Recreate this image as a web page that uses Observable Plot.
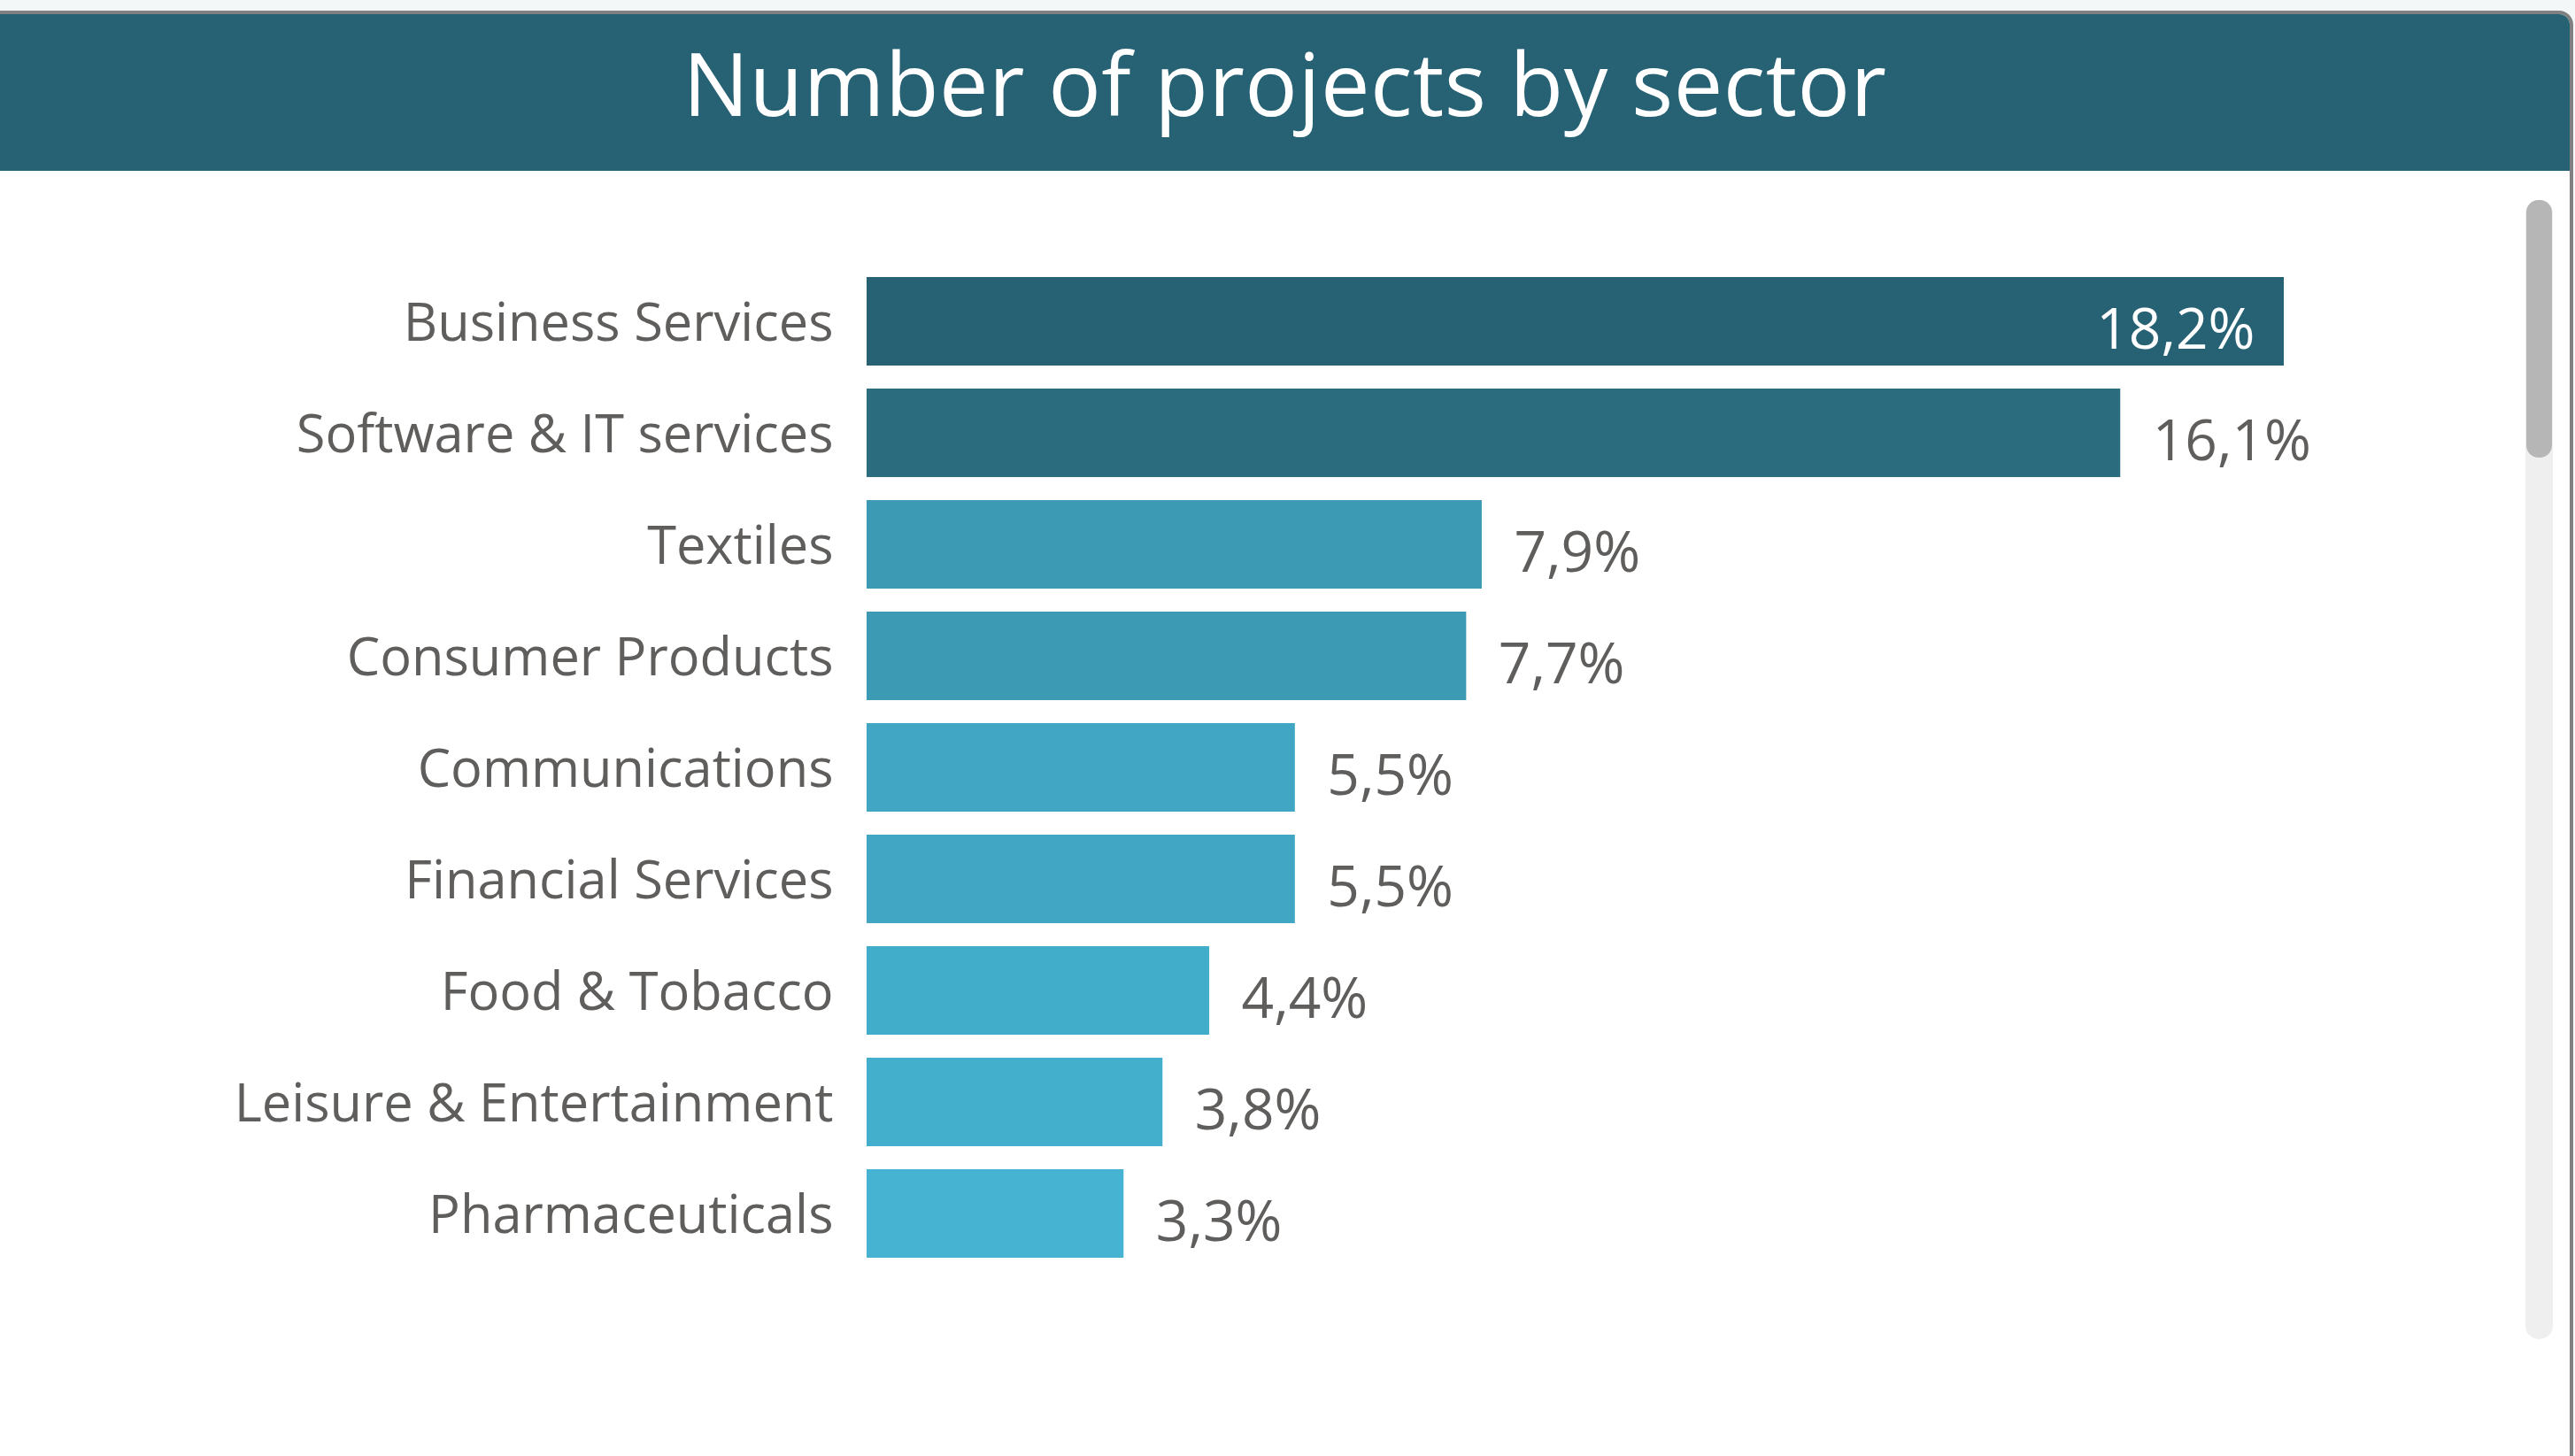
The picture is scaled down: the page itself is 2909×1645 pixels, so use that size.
<!DOCTYPE html>
<html>
<head>
<meta charset="utf-8">
<script src="https://cdn.jsdelivr.net/npm/d3@7"></script>
<script src="https://cdn.jsdelivr.net/npm/@observablehq/plot@0.6"></script>
<style>
  html, body { margin: 0; padding: 0; background: #f3f7f8; }
  body { width: 2909px; height: 1645px; overflow: hidden; position: relative; font-family: "Open Sans", "Noto Sans", sans-serif; }
  #card { position: absolute; left: -14px; top: 12px; width: 2921px; height: 1660px; background: #ffffff;
          border-top: 4px solid #808080; border-right: 4px solid #808080; border-radius: 16px 16px 0 0; box-sizing: border-box; overflow: hidden; }
  #title { position: absolute; left: 0; top: 0; width: 100%; height: 177px; background: #276274; color: #ffffff;
           font-size: 99px; line-height: 177px; text-align: center; padding-left: 14px; box-sizing: border-box; font-weight: 400; letter-spacing: 0.5px; }
  #title span { position: relative; top: -12px; }
  #chart { position: absolute; left: 0; top: 193px; }
  #track { position: absolute; left: 2853px; top: 226px; width: 31px; height: 1287px; background: #efefef; border-radius: 15px; }
  #thumb { position: absolute; left: 2854px; top: 226px; width: 29px; height: 291px; background: #b6b6b6; border-radius: 14px; }
</style>
</head>
<body>
<div id="card"><div id="title"><span>Number of projects by sector</span></div></div>
<div id="chart"></div>
<div id="track"></div>
<div id="thumb"></div>
<script>
const categories = [
  "Business Services",
  "Software & IT services",
  "Textiles",
  "Consumer Products",
  "Communications",
  "Financial Services",
  "Food & Tobacco",
  "Leisure & Entertainment",
  "Pharmaceuticals"
];
const values = [18.2, 16.1, 7.9, 7.7, 5.5, 5.5, 4.4, 3.8, 3.3];
const palette = ["#276274", "#2b6c7f", "#3d9ab4", "#3d9ab4", "#40a6c3", "#40a6c3", "#42adca", "#43afcd", "#46b3d2"];

const data = categories.map((sector, i) => ({sector, value: values[i]}));
const maxValue = d3.max(values);
const fmt = v => d3.format(".1f")(v).replace(".", ",") + "%";

const chart = Plot.plot({
  width: 2840,
  height: 1452,
  marginLeft: 979,
  marginRight: 260,
  marginTop: 104,
  marginBottom: 208,
  x: {domain: [0, maxValue], axis: null},
  y: {domain: categories, paddingInner: 0.21, paddingOuter: 0.105, axis: null},
  color: {domain: categories, range: palette},
  style: {fontFamily: "'Open Sans', 'Noto Sans', sans-serif", color: "#605e5c", background: "transparent", overflow: "visible"},
  marks: [
    Plot.barX(data, {x: "value", y: "sector", fill: "sector"}),
    Plot.axisY({tickSize: 0, tickPadding: 38, fontSize: 59.5, dy: 2, fill: "#605e5c", label: null}),
    Plot.text(data, {filter: d => d.value < maxValue, x: "value", y: "sector", text: d => fmt(d.value),
      textAnchor: "start", dx: 36, dy: 10, fontSize: 64, fill: "#605e5c"}),
    Plot.text(data, {filter: d => d.value >= maxValue, x: "value", y: "sector", text: d => fmt(d.value),
      textAnchor: "end", dx: -33, dy: 10, fontSize: 64, fill: "#ffffff"})
  ]
});
document.getElementById("chart").appendChild(chart);
</script>
</body>
</html>
